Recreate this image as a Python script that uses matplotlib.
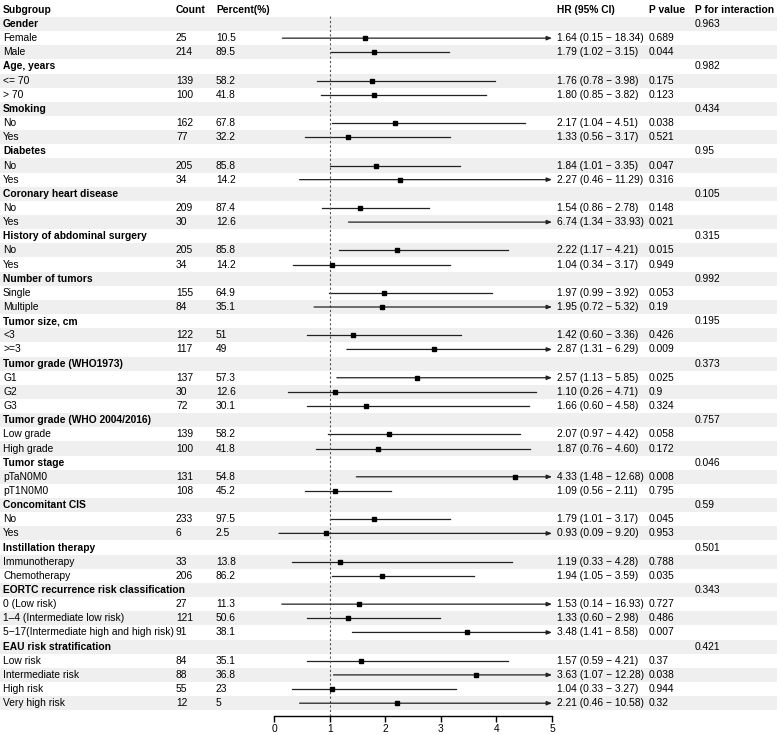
import matplotlib.pyplot as plt

plt.rcParams['font.family'] = ['Liberation Sans', 'DejaVu Sans']

# ---- data ----
groups = ['Gender', 'Age, years', 'Smoking', 'Diabetes', 'Coronary heart disease',
          'History of abdominal surgery', 'Number of tumors', 'Tumor size, cm',
          'Tumor grade (WHO1973)', 'Tumor grade (WHO 2004/2016)', 'Tumor stage',
          'Concomitant CIS', 'Instillation therapy',
          'EORTC recurrence risk classification', 'EAU risk stratification']
p_inter = ['0.963', '0.982', '0.434', '0.95', '0.105', '0.315', '0.992', '0.195',
           '0.373', '0.757', '0.046', '0.59', '0.501', '0.343', '0.421']
group_sizes = [2, 2, 2, 2, 2, 2, 2, 2, 3, 2, 2, 2, 2, 3, 4]

sub_labels = ['Female', 'Male', '<= 70', '> 70', 'No', 'Yes', 'No', 'Yes', 'No', 'Yes',
              'No', 'Yes', 'Single', 'Multiple', '<3', '>=3', 'G1', 'G2', 'G3',
              'Low grade', 'High grade', 'pTaN0M0', 'pT1N0M0', 'No', 'Yes',
              'Immunotherapy', 'Chemotherapy', '0 (Low risk)',
              '1\u20134 (Intermediate low risk)',
              '5\u221217(Intermediate high and high risk)',
              'Low risk', 'Intermediate risk', 'High risk', 'Very high risk']
counts = [25, 214, 139, 100, 162, 77, 205, 34, 209, 30, 205, 34, 155, 84, 122, 117,
          137, 30, 72, 139, 100, 131, 108, 233, 6, 33, 206, 27, 121, 91, 84, 88, 55, 12]
percents = ['10.5', '89.5', '58.2', '41.8', '67.8', '32.2', '85.8', '14.2', '87.4', '12.6',
            '85.8', '14.2', '64.9', '35.1', '51', '49', '57.3', '12.6', '30.1', '58.2',
            '41.8', '54.8', '45.2', '97.5', '2.5', '13.8', '86.2', '11.3', '50.6', '38.1',
            '35.1', '36.8', '23', '5']
hr = [1.64, 1.79, 1.76, 1.80, 2.17, 1.33, 1.84, 2.27, 1.54, 6.74, 2.22, 1.04, 1.97, 1.95,
      1.42, 2.87, 2.57, 1.10, 1.66, 2.07, 1.87, 4.33, 1.09, 1.79, 0.93, 1.19, 1.94,
      1.53, 1.33, 3.48, 1.57, 3.63, 1.04, 2.21]
lo = [0.15, 1.02, 0.78, 0.85, 1.04, 0.56, 1.01, 0.46, 0.86, 1.34, 1.17, 0.34, 0.99, 0.72,
      0.60, 1.31, 1.13, 0.26, 0.60, 0.97, 0.76, 1.48, 0.56, 1.01, 0.09, 0.33, 1.05,
      0.14, 0.60, 1.41, 0.59, 1.07, 0.33, 0.46]
hi = [18.34, 3.15, 3.98, 3.82, 4.51, 3.17, 3.35, 11.29, 2.78, 33.93, 4.21, 3.17, 3.92, 5.32,
      3.36, 6.29, 5.85, 4.71, 4.58, 4.42, 4.60, 12.68, 2.11, 3.17, 9.20, 4.28, 3.59,
      16.93, 2.98, 8.58, 4.21, 12.28, 3.27, 10.58]
pvals = ['0.689', '0.044', '0.175', '0.123', '0.038', '0.521', '0.047', '0.316', '0.148',
         '0.021', '0.015', '0.949', '0.053', '0.19', '0.426', '0.009', '0.025', '0.9',
         '0.324', '0.058', '0.172', '0.008', '0.795', '0.045', '0.953', '0.788', '0.035',
         '0.727', '0.486', '0.007', '0.37', '0.038', '0.944', '0.32']

# ---- layout (pixels) ----
W, H = 783, 735
y0, dy = 9.85, 14.15
x_sub, x_cnt, x_pct, x_hr, x_p, x_pi = 3, 176, 216, 557, 649, 695
fx0, fx1, fy1 = 274, 552, 716
xmax = 5
fs = 7.4

fig = plt.figure(figsize=(W / 100, H / 100), dpi=100)
ax = fig.add_axes([0, 0, 1, 1])
ax.set_xlim(0, W)
ax.set_ylim(H, 0)
ax.axis('off')

fa = fig.add_axes([fx0 / W, 1 - fy1 / H, (fx1 - fx0) / W, fy1 / H])
fa.set_facecolor('none')
fa.set_xlim(0, xmax)
ybot = (fy1 - y0) / dy
fa.set_ylim(ybot, -y0 / dy)

def ypix(r):
    return y0 + dy * r

# header
for x, t in [(x_sub, 'Subgroup'), (x_cnt, 'Count'), (x_pct, 'Percent(%)'),
             (x_hr, 'HR (95% CI)'), (x_p, 'P value'), (x_pi, 'P for interaction')]:
    ax.text(x, ypix(0), t, fontsize=fs, fontweight='bold', va='center', ha='left')

n_rows = len(groups) + len(sub_labels)
for r in range(1, n_rows + 1, 2):
    ax.axhspan(ypix(r) - dy / 2, ypix(r) + dy / 2, xmin=0, xmax=777 / W,
               color='#efefef', lw=0, zorder=0)

row = 1
k = 0
for g, gname in enumerate(groups):
    ax.text(x_sub, ypix(row), gname, fontsize=fs, fontweight='bold', va='center')
    ax.text(x_pi, ypix(row), p_inter[g], fontsize=fs, va='center')
    row += 1
    for _ in range(group_sizes[g]):
        yp = ypix(row)
        ax.text(x_sub, yp, sub_labels[k], fontsize=fs, va='center')
        ax.text(x_cnt, yp, str(counts[k]), fontsize=fs, va='center')
        ax.text(x_pct, yp, percents[k], fontsize=fs, va='center')
        ax.text(x_hr, yp, f'{hr[k]:.2f} ({lo[k]:.2f} \u2212 {hi[k]:.2f})',
                fontsize=fs, va='center')
        ax.text(x_p, yp, pvals[k], fontsize=fs, va='center')
        if hi[k] > xmax:
            fa.annotate('', xy=(xmax, row), xytext=(lo[k], row),
                        arrowprops=dict(arrowstyle='-|>,head_length=0.3,head_width=0.12',
                                        lw=0.9, color='#222222', shrinkA=0, shrinkB=0),
                        annotation_clip=False)
        else:
            fa.plot([lo[k], hi[k]], [row, row], color='#222222', lw=0.9)
        if hr[k] <= xmax:
            fa.plot(hr[k], row, 's', color='black', ms=3, zorder=3)
        row += 1
        k += 1

fa.plot([1, 1], [0.45, ybot], ls=(0, (2, 2)), color='#555555', lw=0.8)

for s in ['top', 'right', 'left']:
    fa.spines[s].set_visible(False)
fa.spines['bottom'].set_linewidth(1.0)
fa.set_yticks([])
fa.set_xticks(range(0, 6))
fa.tick_params(axis='x', length=4, width=1.0, labelsize=fs, pad=1.5)

fig.savefig('out.png', dpi=100)
